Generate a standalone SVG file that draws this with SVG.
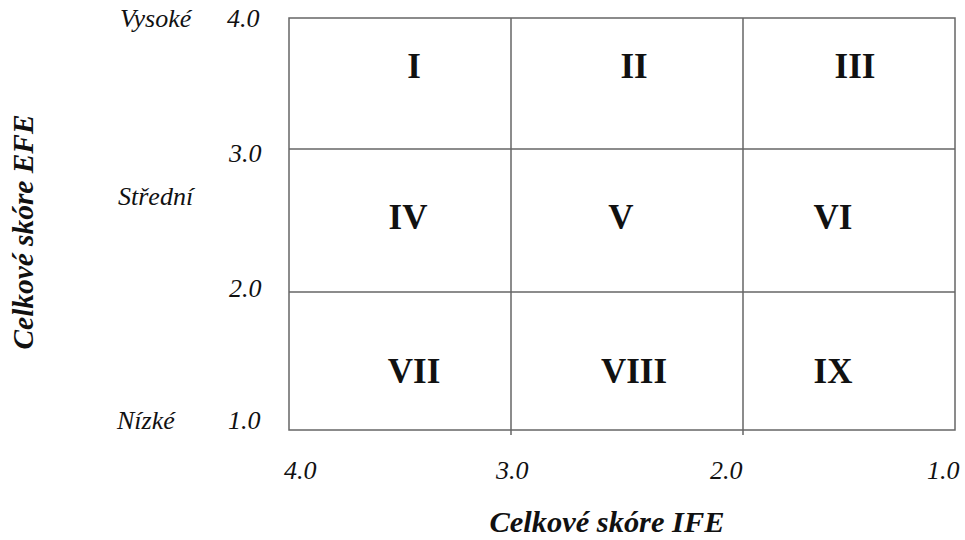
<svg xmlns="http://www.w3.org/2000/svg" width="965" height="540" viewBox="0 0 965 540">
<style>
.ln{stroke:#666;stroke-width:1.5;fill:none}
.lab{font-family:"Liberation Serif",serif;font-style:italic;font-size:26px;fill:#111}
.num{font-family:"Liberation Serif",serif;font-weight:bold;font-size:35px;fill:#111;text-anchor:middle}
.ax{font-family:"Liberation Serif",serif;font-style:italic;font-weight:bold;font-size:29px;fill:#111;text-anchor:middle}
</style>
<rect width="965" height="540" fill="#fff"/>
<g id="connectors">
<rect class="ln" x="289" y="18" width="666" height="412"/>
<line class="ln" x1="289" y1="149" x2="955" y2="149"/>
<line class="ln" x1="289" y1="292" x2="955" y2="292"/>
<line class="ln" x1="511" y1="18" x2="511" y2="435"/>
<line class="ln" x1="743" y1="18" x2="743" y2="435"/>
</g>
<g id="y-labels">
<text class="lab" x="120" y="27">Vysoké</text>
<text class="lab" x="227" y="27">4.0</text>
<text class="lab" x="229" y="162">3.0</text>
<text class="lab" x="118" y="205">Střední</text>
<text class="lab" x="229" y="297">2.0</text>
<text class="lab" x="117" y="429">Nízké</text>
<text class="lab" x="228" y="429">1.0</text>
</g>
<g id="x-labels">
<text class="lab" x="284" y="479">4.0</text>
<text class="lab" x="496" y="479">3.0</text>
<text class="lab" x="710" y="479">2.0</text>
<text class="lab" x="927" y="479">1.0</text>
</g>
<g id="cells">
<g id="c1"><text class="num" x="414" y="78">I</text></g>
<g id="c2"><text class="num" x="634" y="78">II</text></g>
<g id="c3"><text class="num" x="855" y="78">III</text></g>
<g id="c4"><text class="num" x="408" y="229">IV</text></g>
<g id="c5"><text class="num" x="621" y="229">V</text></g>
<g id="c6"><text class="num" x="833" y="229">VI</text></g>
<g id="c7"><text class="num" x="414" y="383">VII</text></g>
<g id="c8"><text class="num" x="634" y="383">VIII</text></g>
<g id="c9"><text class="num" x="833" y="383">IX</text></g>
</g>
<g id="axis-titles">
<text class="ax" x="607" y="532" textLength="235" lengthAdjust="spacingAndGlyphs">Celkové skóre IFE</text>
<text class="ax" transform="translate(33,232) rotate(-90)" textLength="235" lengthAdjust="spacingAndGlyphs">Celkové skóre EFE</text>
</g>
</svg>
